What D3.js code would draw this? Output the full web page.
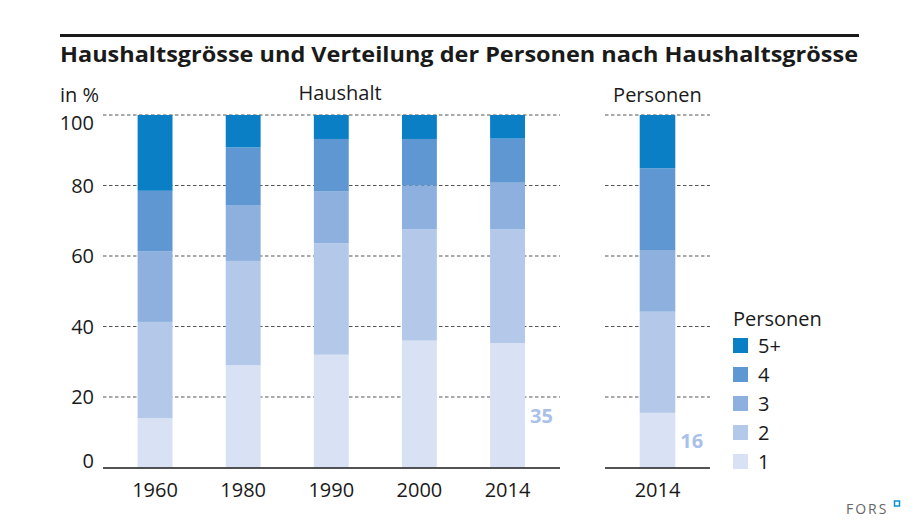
<!DOCTYPE html>
<html lang="de">

<head>
    <script src="https://cdnjs.cloudflare.com/ajax/libs/d3/7.8.5/d3.min.js"></script>
    <style>
        body { margin: 0; background: #fff; }
        text { font-family: "Open Sans", "Noto Sans", sans-serif; }
    </style>
</head>

<body>
    <script>
        var w = 920;
        var h = 532;

        // data
        var years = ["1960", "1980", "1990", "2000", "2014"];
        var sizes = ["1", "2", "3", "4", "5+"];
        var s1 = [14, 29, 32, 36, 35.3];
        var s2 = [27.3, 29.6, 31.6, 31.6, 32.3];
        var s3 = [20, 15.7, 14.7, 12.4, 13.2];
        var s4 = [17.2, 16.5, 14.9, 13.2, 12.5];
        var s5 = [21.5, 9.2, 6.8, 6.8, 6.7];
        var persYear = ["2014"];
        var pers = [15.5, 28.7, 17.5, 23.2, 15.1];
        var yTicks = [0, 20, 40, 60, 80, 100];
        var colors = ["#d9e2f4", "#b4c9ea", "#8db0de", "#5e97d1", "#0b7fc6"];

        var haushalt = years.map(function (y, i) {
            return { year: y, "1": s1[i], "2": s2[i], "3": s3[i], "4": s4[i], "5+": s5[i] };
        });
        var personen = [{ year: persYear[0], "1": pers[0], "2": pers[1], "3": pers[2], "4": pers[3], "5+": pers[4] }];

        var svg = d3.select("body").append("svg")
            .attr("width", w)
            .attr("height", h);

        // title + rule
        svg.append("line")
            .attr("x1", 60).attr("x2", 859)
            .attr("y1", 35.5).attr("y2", 35.5)
            .attr("stroke", "#1a1a1a").attr("stroke-width", 3);
        svg.append("text")
            .attr("x", 60).attr("y", 62)
            .attr("font-size", 22).attr("font-weight", "bold")
            .attr("fill", "#1a1a1a")
            .attr("textLength", 798).attr("lengthAdjust", "spacingAndGlyphs")
            .text("Haushaltsgrösse und Verteilung der Personen nach Haushaltsgrösse");

        var y = d3.scaleLinear().domain([0, 100]).range([467.5, 115]);
        var x1 = d3.scaleBand().domain(years).range([111, 551.6]).paddingInner(0.604).paddingOuter(0.302);
        var x2 = d3.scaleBand().domain(persYear).range([613, 702]).paddingInner(0.6).paddingOuter(0.3);

        var stack = d3.stack().keys(sizes);

        // gridlines
        function grid(x0, x1e) {
            svg.append("g").selectAll("line")
                .data(yTicks.filter(d => d > 0))
                .enter().append("line")
                .attr("x1", x0).attr("x2", x1e)
                .attr("y1", d => y(d)).attr("y2", d => y(d))
                .attr("stroke", "#555").attr("stroke-width", 1.2)
                .attr("stroke-dasharray", "3.5,2.5");
        }
        grid(103, 560);
        grid(605, 710);

        function drawBars(data, x) {
            svg.append("g").selectAll("g")
                .data(stack(data))
                .enter().append("g")
                .attr("fill", (d, i) => colors[i])
                .selectAll("rect")
                .data(d => d)
                .enter().append("rect")
                .attr("x", d => x(d.data.year))
                .attr("width", x.bandwidth())
                .attr("y", d => y(d[1]))
                .attr("height", d => y(d[0]) - y(d[1]));
        }
        drawBars(haushalt, x1);
        drawBars(personen, x2);

        // baselines
        svg.append("line").attr("x1", 103).attr("x2", 560)
            .attr("y1", 468).attr("y2", 468).attr("stroke", "#1a1a1a").attr("stroke-width", 1.6);
        svg.append("line").attr("x1", 605).attr("x2", 710)
            .attr("y1", 468).attr("y2", 468).attr("stroke", "#1a1a1a").attr("stroke-width", 1.6);

        // y axis labels (top and bottom nudged inward like the original)
        svg.append("g").selectAll("text")
            .data(yTicks)
            .enter().append("text")
            .attr("x", 94)
            .attr("y", d => y(d) + 7 + (d == 100 ? 8 : 0) + (d == 0 ? -7 : 0))
            .attr("text-anchor", "end")
            .attr("font-size", 20)
            .attr("fill", "#1a1a1a")
            .text(d => d);

        // x axis labels
        svg.append("g").selectAll("text")
            .data(years)
            .enter().append("text")
            .attr("x", d => x1(d) + x1.bandwidth() / 2)
            .attr("y", 497)
            .attr("text-anchor", "middle")
            .attr("font-size", 20)
            .attr("fill", "#1a1a1a")
            .text(d => d);
        svg.append("text")
            .attr("x", x2(persYear[0]) + x2.bandwidth() / 2)
            .attr("y", 497)
            .attr("text-anchor", "middle")
            .attr("font-size", 20)
            .attr("fill", "#1a1a1a")
            .text(persYear[0]);

        // headers
        svg.append("text").attr("x", 60).attr("y", 102)
            .attr("font-size", 20).attr("fill", "#1a1a1a").text("in %");
        svg.append("text").attr("x", 340).attr("y", 100)
            .attr("text-anchor", "middle")
            .attr("font-size", 20).attr("fill", "#1a1a1a").text("Haushalt");
        svg.append("text").attr("x", x2(persYear[0]) + x2.bandwidth() / 2).attr("y", 102)
            .attr("text-anchor", "middle")
            .attr("font-size", 20).attr("fill", "#1a1a1a").text("Personen");

        // value labels for single persons
        svg.append("text")
            .attr("x", x1("2014") + x1.bandwidth() + 5)
            .attr("y", 423)
            .attr("font-size", 20).attr("font-weight", "bold")
            .attr("fill", "#a9c1e8")
            .text(Math.round(s1[4]));
        svg.append("text")
            .attr("x", x2("2014") + x2.bandwidth() + 5)
            .attr("y", 448)
            .attr("font-size", 20).attr("font-weight", "bold")
            .attr("fill", "#a9c1e8")
            .text(Math.round(pers[0] + 0.5));

        // legend
        var legend = svg.append("g").attr("transform", "translate(733,0)");
        legend.append("text").attr("x", 0).attr("y", 326)
            .attr("font-size", 20).attr("fill", "#1a1a1a").text("Personen");
        var items = legend.selectAll("g.item")
            .data(sizes.slice().reverse())
            .enter().append("g")
            .attr("class", "item")
            .attr("transform", (d, i) => "translate(0," + (338 + i * 29) + ")");
        items.append("rect")
            .attr("width", 15).attr("height", 15)
            .attr("fill", d => colors[sizes.indexOf(d)]);
        items.append("text")
            .attr("x", 25).attr("y", 15)
            .attr("font-size", 20).attr("fill", "#1a1a1a")
            .text(d => d);

        // logo
        svg.append("text").attr("x", 846).attr("y", 514)
            .attr("font-size", 14).attr("letter-spacing", 2)
            .attr("fill", "#666").text("FORS");
        svg.append("rect").attr("x", 894.5).attr("y", 501)
            .attr("width", 5).attr("height", 5)
            .attr("fill", "none").attr("stroke", "#0b90d8").attr("stroke-width", 1.5);
    </script>
</body>

</html>
